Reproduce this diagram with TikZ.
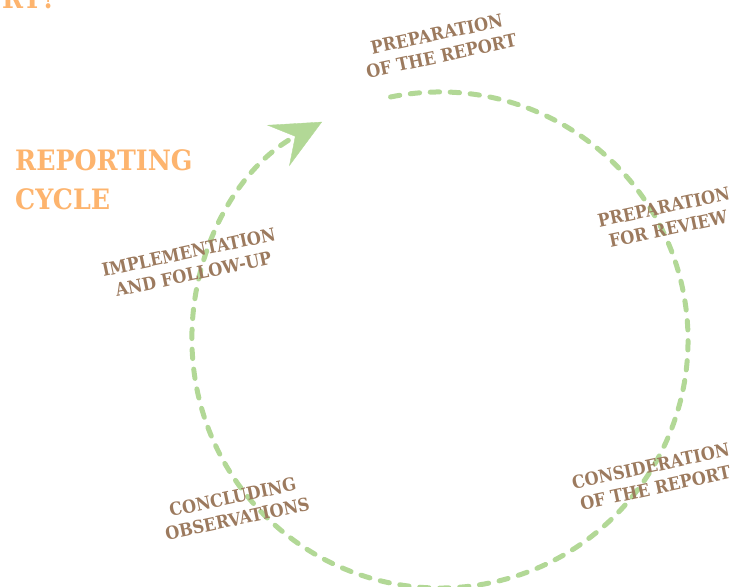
\documentclass[tikz,border=0pt]{standalone}
\usepackage{fontspec}
\setmainfont{DejaVu Serif}
\newfontfamily\slabfont{DejaVu Serif Condensed}
\usepackage{tikz}
\usetikzlibrary{arrows.meta}

\definecolor{cyclegreen}{RGB}{178,216,150}
\definecolor{stagebrown}{RGB}{156,122,94}
\definecolor{titleorange}{RGB}{253,180,110}

\begin{document}
\begin{tikzpicture}[x=0.3mm, y=0.3mm,
        stage/.style={font=\slabfont\bfseries\fontsize{15.3}{19}\selectfont, text=stagebrown,
                      align=center, rotate=12, inner sep=0pt},
        title/.style={font=\slabfont\bfseries\fontsize{24}{34}\selectfont, text=titleorange,
                      align=left, inner sep=0pt},
        cycle/.style={draw=cyclegreen, line width=1.5mm, line cap=round,
                      dash pattern=on 2.8mm off 3.2mm}
    ]
        \useasboundingbox (0,0) rectangle (738,587);
        \clip (0,0) rectangle (738,587);

        % heading
        \node[title, anchor=base west] (question) at (2,578) {RT?};
        \node[title, anchor=base west] (heading) at (15,377) {REPORTING\\CYCLE};

        % the cycle
        \coordinate (hub) at (440,247);
        \draw[cycle, -{Stealth[length=15mm, width=14mm, inset=5.8mm, line width=0.3pt]}]
            (hub) ++(101.5:248) arc[start angle=101.5, end angle=-241.6, radius=248];

        % stages
        \node[stage] (prep) at (439,542) {PREPARATION\\OF THE REPORT};
        \node[stage] (review) at (666,369) {PREPARATION\\FOR REVIEW};
        \node[stage] (consid) at (653,110) {CONSIDERATION\\OF THE REPORT};
        \node[stage] (concl) at (235,79) {CONCLUDING\\OBSERVATIONS};
        \node[stage] (impl) at (191,324) {IMPLEMENTATION\\AND FOLLOW-UP};
    \end{tikzpicture}
\end{document}
